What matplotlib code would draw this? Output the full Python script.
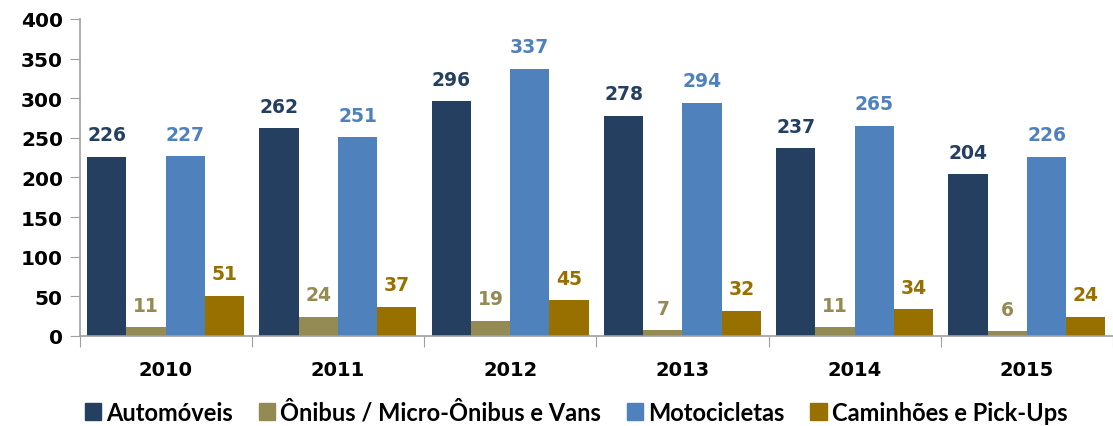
import numpy as np
import matplotlib.pyplot as plt

anos = ['2010', '2011', '2012', '2013', '2014', '2015']
series = ['Automóveis', 'Ônibus / Micro-Ônibus e Vans', 'Motocicletas', 'Caminhões e Pick-Ups']
automoveis = [226, 262, 296, 278, 237, 204]
onibus = [11, 24, 19, 7, 11, 6]
motos = [227, 251, 337, 294, 265, 226]
caminhoes = [51, 37, 45, 32, 34, 24]
valores = [automoveis, onibus, motos, caminhoes]
cores = ['#243F60', '#948A54', '#4F81BD', '#987000']

fig = plt.figure(figsize=(11.13, 4.27), dpi=100)
ax = fig.add_axes([0.0715, 0.2108, 0.9285, 0.7424])

x = np.arange(len(anos))
w = 0.228
for i, (vals, cor) in enumerate(zip(valores, cores)):
    pos = x + (i - 1.5) * w
    ax.bar(pos, vals, width=w, color=cor, zorder=2)
    for p, v in zip(pos, vals):
        ax.annotate(str(v), (p, v), xytext=(0, 9), textcoords='offset points',
                    ha='center', va='bottom', color=cor, fontsize=13.5,
                    fontweight='bold', family='DejaVu Sans')

ax.set_xlim(-0.5, len(anos) - 0.5)
ax.set_ylim(0, 400)
ax.set_yticks(range(0, 401, 50))
ax.tick_params(axis='y', labelsize=14.5, length=7, color='#A0A0A0', pad=5)
for t in ax.get_yticklabels():
    t.set_fontweight('bold')

# ticks between categories, labels centered
ax.set_xticks(np.arange(-0.5, len(anos), 1.0))
ax.set_xticklabels([])
ax.set_xticks(x, minor=True)
ax.set_xticklabels(anos, minor=True, fontsize=14, fontweight='bold')
ax.tick_params(axis='x', which='major', length=8, color='#A0A0A0')
ax.tick_params(axis='x', which='minor', length=0, pad=17)

for s in ['top', 'right']:
    ax.spines[s].set_visible(False)
for s in ['left', 'bottom']:
    ax.spines[s].set_color('#A0A0A0')
    ax.spines[s].set_linewidth(1.2)

handles = [plt.Rectangle((0, 0), 1, 1, color=c) for c in cores]
fig.legend(handles, series, loc='center', bbox_to_anchor=(0.5175, 0.033),
           ncol=4, frameon=False, handlelength=0.7, handleheight=0.7,
           handletextpad=0.2, columnspacing=1.1,
           prop={'family': 'Lato', 'weight': 'bold', 'size': 17})

fig.savefig('out.png', dpi=100)
